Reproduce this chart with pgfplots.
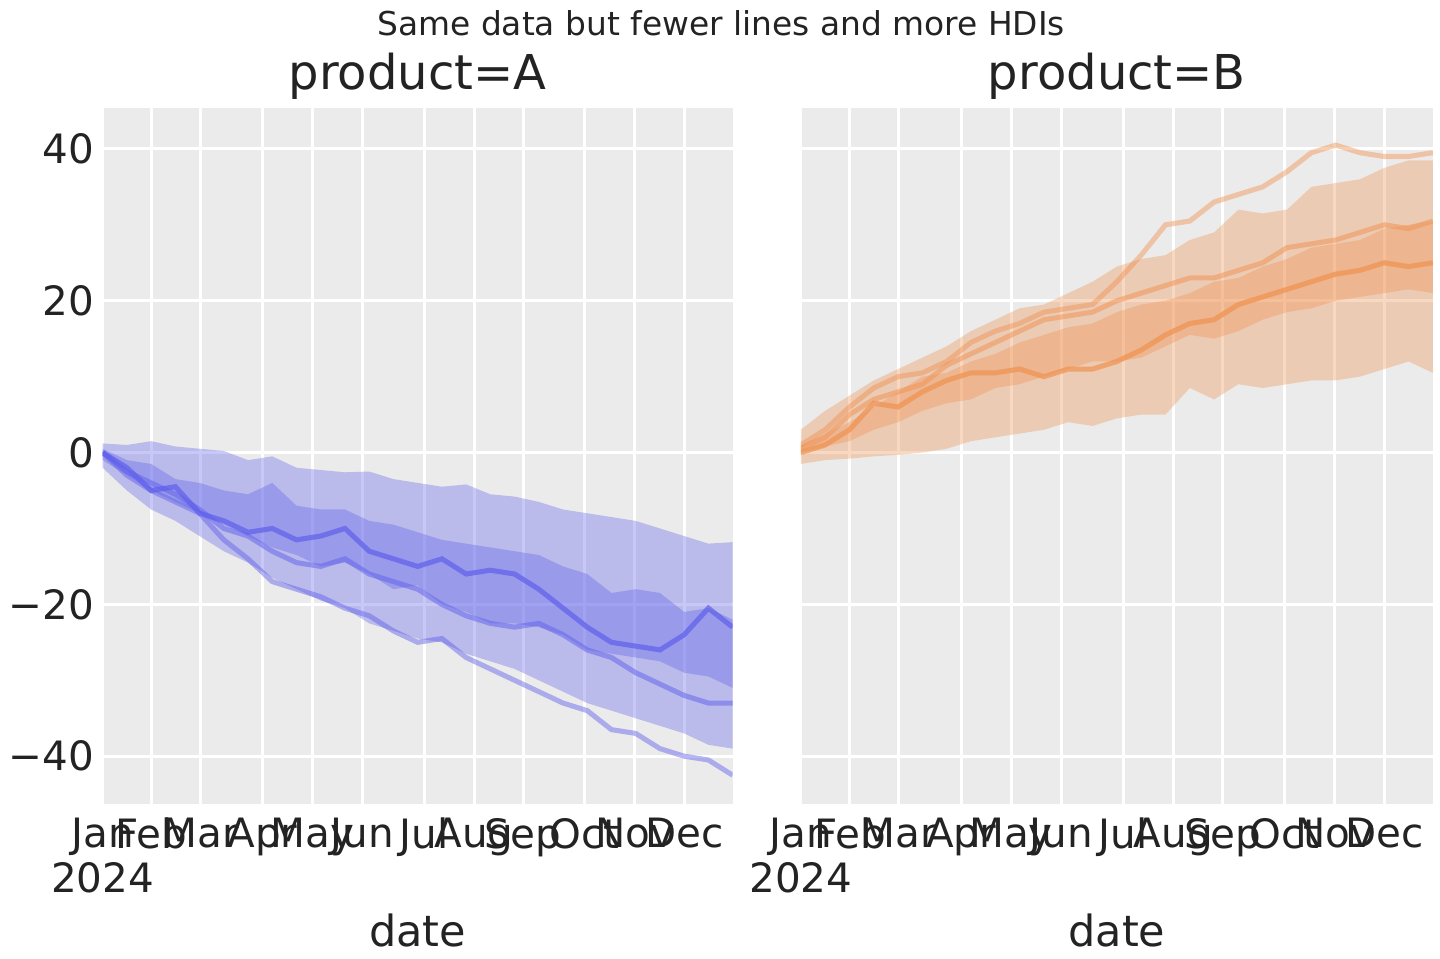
\documentclass[border=0pt]{standalone}
\usepackage{pgfplots}
\pgfplotsset{compat=1.18}
\usepackage{pgfplotstable}
\usepgfplotslibrary{fillbetween}
\usepackage{fontspec}
\setmainfont{DejaVu Sans}
\definecolor{bl}{RGB}{95,95,235}
\definecolor{og}{RGB}{240,145,80}
\definecolor{bg}{RGB}{235,235,235}
\definecolor{tx}{RGB}{35,35,35}
\pgfplotstableread{
d oup olo iup ilo la lb lc
0 1.2 -2.0 0.5 -1.0 0 0 0
14 1.0 -5.0 -1.0 -3.0 -3.0 -2.5 -2.0
28 1.5 -7.5 -1.5 -5.0 -5.0 -4.0 -5.0
42 0.8 -9.0 -3.5 -6.5 -6.5 -5.5 -4.5
56 0.5 -11.0 -4.0 -8.0 -8.0 -7.5 -8.0
70 0.2 -13.0 -5.0 -9.5 -11.5 -10.0 -9.0
84 -1.0 -14.5 -5.5 -11.0 -14.0 -11.0 -10.5
98 -0.5 -16.5 -4.0 -12.5 -17.0 -13.0 -10.0
112 -2.0 -18.0 -7.0 -13.5 -18.0 -14.5 -11.5
126 -2.3 -19.5 -7.5 -15.0 -19.0 -15.0 -11.0
140 -2.6 -20.5 -7.5 -14.5 -20.5 -14.0 -10.0
154 -2.5 -22.5 -9.0 -16.0 -21.5 -16.0 -13.0
168 -3.5 -23.5 -9.5 -18.0 -23.5 -17.0 -14.0
182 -4.0 -24.5 -10.5 -17.5 -25.0 -18.0 -15.0
196 -4.5 -25.0 -11.5 -20.0 -24.5 -20.0 -14.0
210 -4.2 -26.5 -12.0 -21.0 -27.0 -21.5 -16.0
224 -5.5 -27.5 -12.5 -22.5 -28.5 -22.5 -15.5
238 -5.8 -28.5 -13.0 -22.5 -30.0 -23.0 -16.0
252 -6.5 -30.0 -13.5 -23.0 -31.5 -22.5 -18.0
266 -7.5 -31.5 -15.0 -24.0 -33.0 -24.0 -20.5
280 -8.0 -33.0 -16.0 -26.0 -34.0 -26.0 -23.0
294 -8.5 -34.0 -18.5 -26.5 -36.5 -27.0 -25.0
308 -9.0 -35.0 -18.0 -27.0 -37.0 -29.0 -25.5
322 -10.0 -36.0 -18.5 -27.5 -39.0 -30.5 -26.0
336 -11.0 -37.0 -21.0 -29.0 -40.0 -32.0 -24.0
350 -12.0 -38.5 -20.5 -29.5 -40.5 -33.0 -20.5
364 -11.8 -39.0 -22.0 -31.0 -42.5 -33.0 -23.0
}\tabA
\pgfplotstableread{
d oup olo iup ilo la lb lc
0 3.0 -1.5 1.0 0.0 1.0 0.5 0.0
14 5.5 -1.0 2.5 0.8 3.0 2.0 1.0
28 7.5 -0.8 4.0 1.5 6.0 5.0 3.0
42 9.5 -0.5 6.0 3.0 8.5 7.0 6.5
56 11.0 -0.3 8.0 4.0 10.0 8.0 6.0
70 12.5 0.0 10.0 5.5 10.5 9.0 8.0
84 14.0 0.5 10.5 6.5 12.0 11.5 9.5
98 16.0 1.5 12.0 7.0 14.5 13.0 10.5
112 17.5 2.0 13.0 8.5 16.0 14.5 10.5
126 19.0 2.5 14.5 9.0 17.0 16.0 11.0
140 19.5 3.0 15.5 10.0 18.5 17.5 10.0
154 21.0 4.0 16.5 11.0 19.0 18.0 11.0
168 22.5 3.5 17.0 12.0 19.5 18.5 11.0
182 24.5 4.5 18.5 12.0 22.5 20.0 12.0
196 25.5 5.0 19.5 12.5 26.0 21.0 13.5
210 26.0 5.0 20.0 14.0 30.0 22.0 15.5
224 28.0 8.5 21.0 15.5 30.5 23.0 17.0
238 29.0 7.0 22.5 15.0 33.0 23.0 17.5
252 32.0 9.0 23.0 16.0 34.0 24.0 19.5
266 31.5 8.5 24.5 17.5 35.0 25.0 20.5
280 32.0 9.0 25.5 18.5 37.0 27.0 21.5
294 35.0 9.5 27.0 19.0 39.5 27.5 22.5
308 35.5 9.5 27.5 20.0 40.5 28.0 23.5
322 36.0 10.0 28.0 20.5 39.5 29.0 24.0
336 37.5 11.0 29.5 21.0 39.0 30.0 25.0
350 38.5 12.0 30.0 21.5 39.0 29.5 24.5
364 38.5 10.5 30.5 21.0 39.5 30.5 25.0
}\tabB
\pgfplotsset{
  panel/.style={scale only axis, height=9.68cm, ymin=-46.3, ymax=45.4,
    xmin=0, xmax=364, axis background/.style={fill=bg}, axis line style={draw=none},
    grid=major, major grid style={white, line width=1.2pt}, tick style={draw=none},
    xtick={0,28.3,56.5,92.3,121.1,150,185.7,214.6,242.9,278.6,307.5,336.3},
    xticklabels={{Jan\\2024},Feb,Mar,Apr,May,Jun,Jul,Aug,Sep,Oct,Nov,Dec},
    xticklabel style={align=center, anchor=north, yshift=-2pt},
    ytick={-40,-20,0,20,40},
    tick label style={font=\fontsize{16}{18}\selectfont, text=tx},
    label style={font=\fontsize{17}{20}\selectfont, text=tx},
    title style={font=\fontsize{19}{22}\selectfont, text=tx, yshift=-6pt},
    xlabel={date}, xlabel style={yshift=-1pt},
  }
}
\begin{document}
\begin{tikzpicture}
\path (-1.403cm,-2.153cm) rectangle (18.597cm,11.181cm);
\node[font=\fontsize{13}{15}\selectfont, text=tx] at (8.6cm,10.86cm) {Same data but fewer lines and more HDIs};
\begin{axis}[panel, at={(0,0)}, width=8.76cm, title={product=A},
  yticklabels={−40,−20,0,20,40}]
\addplot[draw=none, name path=ou] table[x=d,y=oup]{\tabA};
\addplot[draw=none, name path=ol] table[x=d,y=olo]{\tabA};
\addplot[fill=bl, fill opacity=0.35, draw=none] fill between[of=ou and ol];
\addplot[draw=none, name path=iu] table[x=d,y=iup]{\tabA};
\addplot[draw=none, name path=il] table[x=d,y=ilo]{\tabA};
\addplot[fill=bl, fill opacity=0.35, draw=none] fill between[of=iu and il];
\addplot[bl, opacity=0.45, line width=2pt] table[x=d,y=la]{\tabA};
\addplot[bl, opacity=0.5, line width=2pt] table[x=d,y=lb]{\tabA};
\addplot[bl, opacity=0.7, line width=2pt] table[x=d,y=lc]{\tabA};
\end{axis}
\begin{axis}[panel, at={(9.708cm,0)}, width=8.79cm, title={product=B},
  yticklabels={}]
\addplot[draw=none, name path=ou] table[x=d,y=oup]{\tabB};
\addplot[draw=none, name path=ol] table[x=d,y=olo]{\tabB};
\addplot[fill=og, fill opacity=0.35, draw=none] fill between[of=ou and ol];
\addplot[draw=none, name path=iu] table[x=d,y=iup]{\tabB};
\addplot[draw=none, name path=il] table[x=d,y=ilo]{\tabB};
\addplot[fill=og, fill opacity=0.35, draw=none] fill between[of=iu and il];
\addplot[og, opacity=0.45, line width=2pt] table[x=d,y=la]{\tabB};
\addplot[og, opacity=0.5, line width=2pt] table[x=d,y=lb]{\tabB};
\addplot[og, opacity=0.7, line width=2pt] table[x=d,y=lc]{\tabB};
\end{axis}
\end{tikzpicture}
\end{document}
